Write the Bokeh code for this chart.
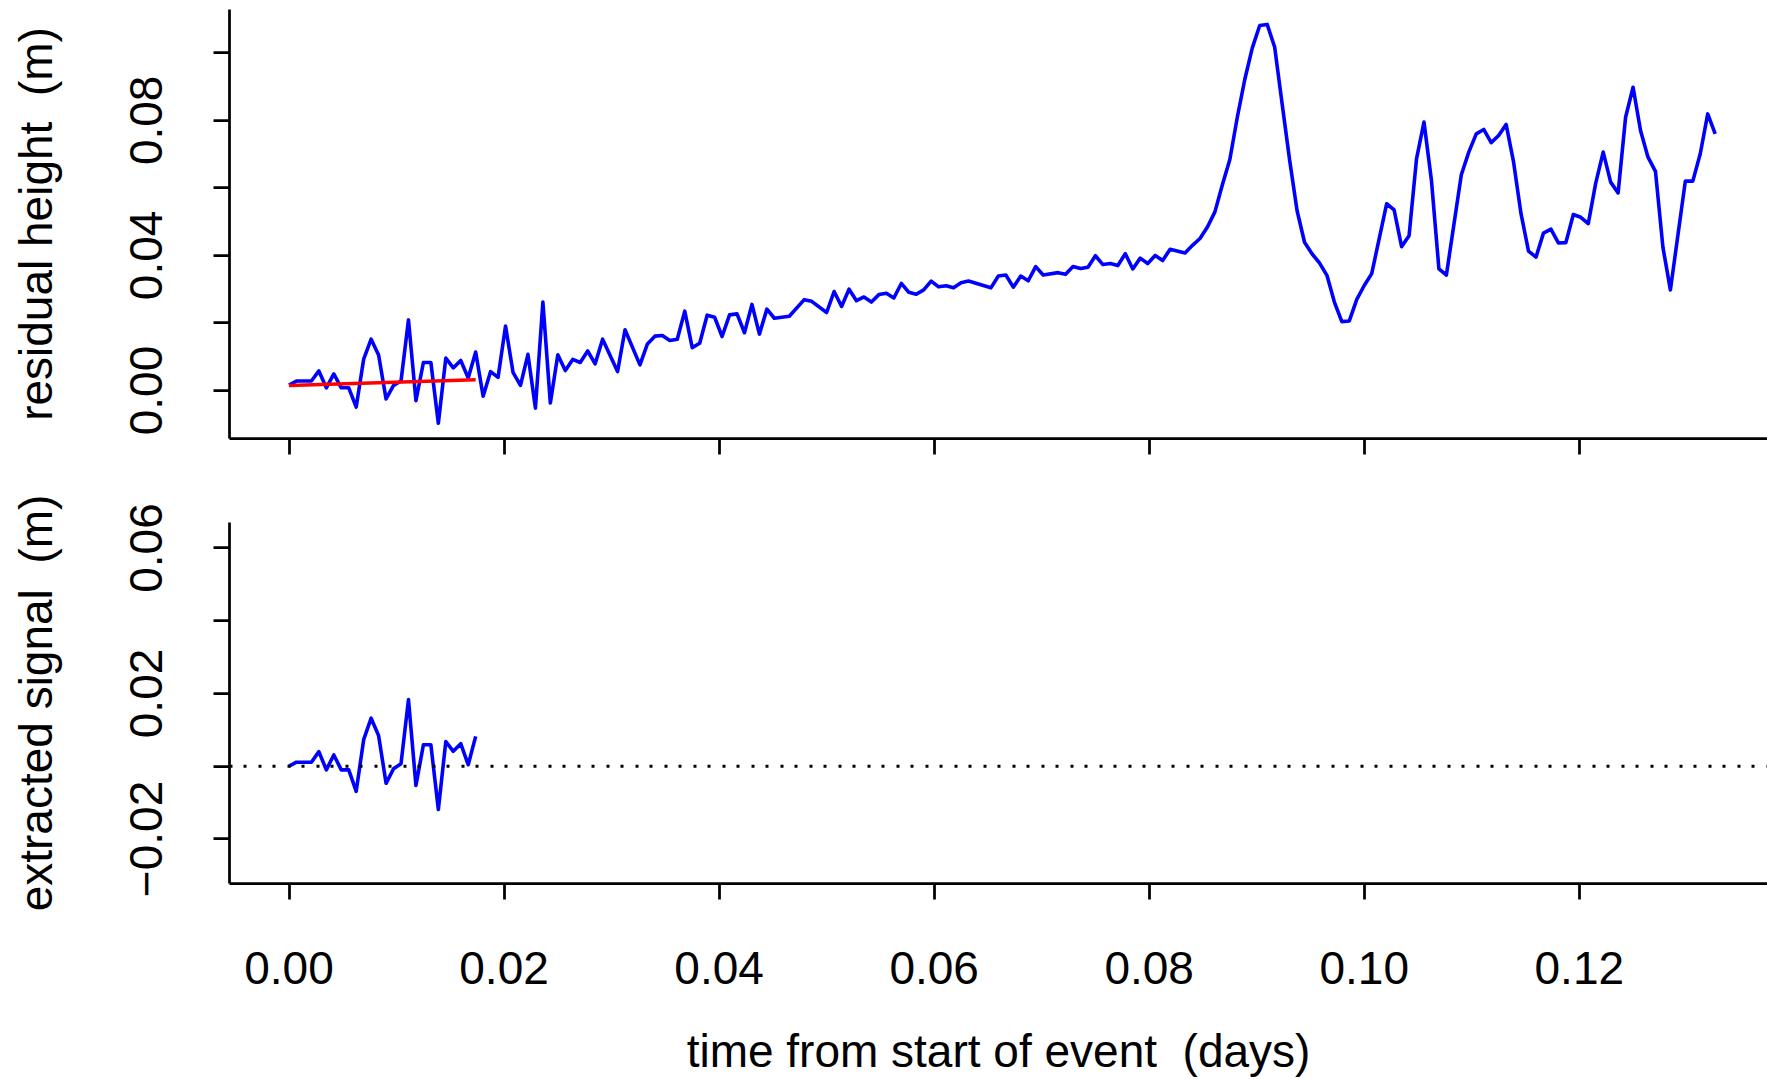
import math
from bokeh.plotting import figure
from bokeh.models import FixedTicker, Range1d, Span
from bokeh.layouts import column
from bokeh.embed import file_html
from bokeh.resources import INLINE

# ---------------- data ----------------
# residual height (m) sampled every minute from start of event
resid_minutes = [0, 1, 2, 3, 4, 5, 6, 7, 8, 9, 10, 11, 12, 13, 14, 15, 16, 17, 18, 19,
                 20, 21, 22, 23, 24, 25, 26, 27, 28, 29, 30, 31, 32, 33, 34, 35, 36, 37, 38, 39,
                 40, 41, 42, 44, 45, 47, 48, 49, 50, 51, 52, 53, 54, 55, 56, 57, 58, 59, 60, 61,
                 62, 63, 64, 65, 67, 69, 70, 72, 73, 74, 75, 76, 77, 78, 79, 80, 81, 82, 83, 84,
                 85, 86, 87, 88, 89, 90, 91, 94, 95, 96, 97, 98, 99, 100, 101, 103, 104, 105, 106, 107,
                 108, 109, 110, 111, 112, 113, 114, 115, 116, 117, 118, 120, 121, 122, 123, 124, 125, 126, 127, 128,
                 129, 130, 131, 132, 133, 134, 135, 136, 137, 138, 139, 140, 141, 142, 143, 144, 145, 147, 148, 149,
                 150, 151, 152, 153, 154, 155, 157, 158, 159, 160, 161, 162, 163, 164, 165, 166, 167, 168, 169, 170,
                 171, 172, 173, 174, 175, 176, 177, 178, 179, 180, 181, 182, 183, 184, 185, 186, 187, 188, 189, 190, 191]
resid_height = [0.0016, 0.0028, 0.0028, 0.0028, 0.0058, 0.0008, 0.0049, 0.0008, 0.0008, -0.0049,
                0.0093, 0.0152, 0.0105, -0.0025, 0.0015, 0.0028, 0.0209, -0.0030, 0.0083, 0.0083,
                -0.0097, 0.0096, 0.0067, 0.0089, 0.0037, 0.0114, -0.0017, 0.0056, 0.0039, 0.0191,
                0.0054, 0.0015, 0.0107, -0.0052, 0.0262, -0.0037, 0.0106, 0.0059, 0.0092, 0.0083,
                0.0117, 0.0079, 0.0152, 0.0056, 0.0180, 0.0076, 0.0138, 0.0161, 0.0163, 0.0148,
                0.0152, 0.0235, 0.0127, 0.0140, 0.0223, 0.0217, 0.0160, 0.0224, 0.0227, 0.0171,
                0.0255, 0.0167, 0.0241, 0.0214, 0.0220, 0.0269, 0.0264, 0.0231, 0.0293, 0.0249,
                0.0300, 0.0266, 0.0277, 0.0262, 0.0284, 0.0288, 0.0274, 0.0317, 0.0291, 0.0285,
                0.0298, 0.0324, 0.0307, 0.0310, 0.0304, 0.0319, 0.0324, 0.0304, 0.0339, 0.0342,
                0.0306, 0.0339, 0.0325, 0.0367, 0.0342, 0.0349, 0.0344, 0.0367, 0.0361, 0.0365,
                0.0399, 0.0373, 0.0376, 0.0370, 0.0405, 0.0360, 0.0392, 0.0376, 0.0400, 0.0385,
                0.0418, 0.0407, 0.0430, 0.0450, 0.0484, 0.0529, 0.0609, 0.0684, 0.0809, 0.0921,
                0.1014, 0.1081, 0.1084, 0.1017, 0.0849, 0.0683, 0.0533, 0.0439, 0.0405, 0.0378,
                0.0341, 0.0262, 0.0204, 0.0206, 0.0270, 0.0311, 0.0346, 0.0553, 0.0535, 0.0426,
                0.0458, 0.0686, 0.0795, 0.0622, 0.0360, 0.0342, 0.0639, 0.0706, 0.0760, 0.0773,
                0.0734, 0.0755, 0.0788, 0.0676, 0.0523, 0.0413, 0.0395, 0.0466, 0.0478, 0.0437,
                0.0438, 0.0521, 0.0513, 0.0494, 0.0614, 0.0706, 0.0617, 0.0585, 0.0809, 0.0898,
                0.0770, 0.0691, 0.0649, 0.0424, 0.0298, 0.0459, 0.0620, 0.0620, 0.0701, 0.0819, 0.0760]

# fitted trend over the first 25 minutes (red line)
trend_minutes = [0, 25]
trend_height = [0.0015, 0.0032]

# extracted signal (m)
signal_minutes = [0, 1, 2, 3, 4, 5, 6, 7, 8, 9, 10, 11, 12, 13, 14, 15, 16, 17, 18, 19,
                  20, 21, 22, 23, 24, 25]
signal_values = [0.0000, 0.0011, 0.0011, 0.0011, 0.0040, -0.0010, 0.0031, -0.0010, -0.0010, -0.0069,
                 0.0073, 0.0132, 0.0084, -0.0047, -0.0007, 0.0007, 0.0183, -0.0053, 0.0059, 0.0059,
                 -0.0119, 0.0068, 0.0041, 0.0062, 0.0004, 0.0082]

x_ticks = [0.00, 0.02, 0.04, 0.06, 0.08, 0.10, 0.12]
x_tick_labels = ["0.00", "0.02", "0.04", "0.06", "0.08", "0.10", "0.12"]
top_y_ticks = [0.00, 0.04, 0.08]
top_y_labels = ["0.00", "0.04", "0.08"]
top_y_unlabeled = [0.02, 0.06, 0.10]
bot_y_ticks = [-0.02, 0.02, 0.06]
bot_y_labels = ["\u22120.02", "0.02", "0.06"]
bot_y_unlabeled = [0.00, 0.04]

MIN_PER_DAY = 1440.0
resid_t = [m / MIN_PER_DAY for m in resid_minutes]
trend_t = [m / MIN_PER_DAY for m in trend_minutes]
signal_t = [m / MIN_PER_DAY for m in signal_minutes]

FONT = "Liberation Sans"
FS = "46px"
LW = 2.75
DATA_LW = 3.6

x_range = Range1d(-0.005534, 0.137503)


def style_common(p):
    p.xgrid.visible = False
    p.ygrid.visible = False
    p.outline_line_color = None
    p.background_fill_color = "white"
    p.border_fill_color = "white"
    for ax in p.axis:
        ax.axis_line_color = "black"
        ax.axis_line_width = LW
        ax.major_tick_line_color = "black"
        ax.major_tick_line_width = LW
        ax.major_tick_out = 16
        ax.major_tick_in = 0
        ax.minor_tick_line_color = "black"
        ax.minor_tick_line_width = LW
        ax.minor_tick_out = 16
        ax.minor_tick_in = 0
        ax.major_label_text_font = FONT
        ax.major_label_text_font_size = FS
        ax.major_label_text_color = "black"
        ax.axis_label_text_font = FONT
        ax.axis_label_text_font_size = FS
        ax.axis_label_text_font_style = "normal"
        ax.axis_label_text_color = "black"


# ---------------- top panel ----------------
p1 = figure(width=1767, height=470, x_range=x_range,
            y_range=Range1d(-0.01421, 0.11282),
            output_backend="svg", toolbar_location=None,
            min_border_left=229, min_border_right=0,
            min_border_top=9, min_border_bottom=32)
style_common(p1)
p1.line(resid_t, resid_height, line_color="#0000FF", line_width=DATA_LW, line_join="round")
p1.line(trend_t, trend_height, line_color="#FF0000", line_width=DATA_LW)

# tick marks only (no labels) on the top panel's time axis
p1.xaxis.ticker = FixedTicker(ticks=[], minor_ticks=x_ticks)
p1.yaxis.ticker = FixedTicker(ticks=top_y_ticks, minor_ticks=top_y_unlabeled)
p1.yaxis.major_label_overrides = dict(zip(top_y_ticks, top_y_labels))
p1.yaxis.major_label_orientation = "parallel"
p1.yaxis.major_label_standoff = 51
p1.yaxis.axis_label = "residual height\u00a0 (m)"
p1.yaxis.axis_label_standoff = 66

# ---------------- bottom panel ----------------
p2 = figure(width=1767, height=609, x_range=x_range,
            y_range=Range1d(-0.03225, 0.06701),
            output_backend="svg", toolbar_location=None,
            min_border_left=229, min_border_right=0,
            min_border_top=52, min_border_bottom=196)
style_common(p2)
zero = Span(location=0, dimension="width", line_color="black",
            line_width=3, line_dash="3 11 3 12")
p2.add_layout(zero)
p2.line(signal_t, signal_values, line_color="#0000FF", line_width=DATA_LW, line_join="round")

p2.xaxis.ticker = FixedTicker(ticks=x_ticks)
p2.xaxis.major_label_overrides = dict(zip(x_ticks, x_tick_labels))
p2.xaxis.major_label_standoff = 52
p2.xaxis.axis_label = "time from start of event\u00a0 (days)"
p2.xaxis.axis_label_standoff = 38
p2.yaxis.ticker = FixedTicker(ticks=bot_y_ticks, minor_ticks=bot_y_unlabeled)
p2.yaxis.major_label_overrides = dict(zip(bot_y_ticks, bot_y_labels))
p2.yaxis.major_label_orientation = "parallel"
p2.yaxis.major_label_standoff = 51
p2.yaxis.axis_label = "extracted signal\u00a0 (m)"
p2.yaxis.axis_label_standoff = 66

layout = column(p1, p2, spacing=0)

with open("out.html", "w") as f:
    f.write(file_html(layout, INLINE))
